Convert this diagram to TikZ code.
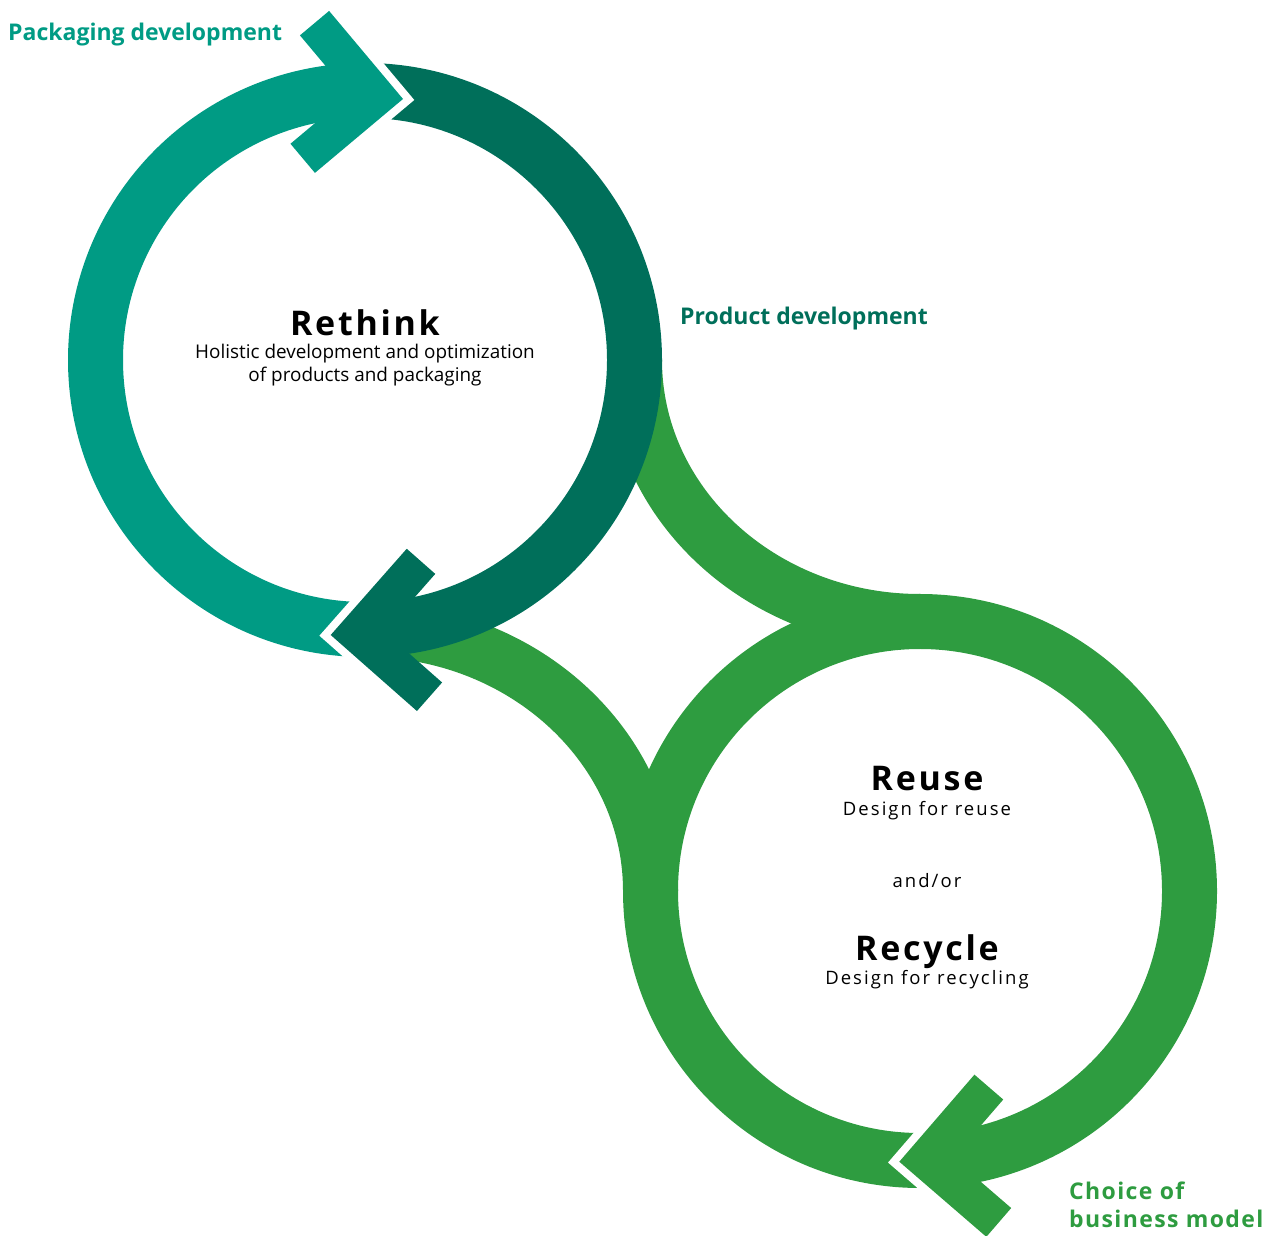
\documentclass[tikz,border=0pt]{standalone}
\usepackage{fontspec}
\setmainfont{Open Sans}
\newfontfamily\spacedfont[LetterSpace=8]{Open Sans}
\newfontfamily\widefont[LetterSpace=11]{Open Sans}
\newfontfamily\bizfont[LetterSpace=6]{Open Sans}
\usepackage{tikz}
\usetikzlibrary{positioning}
\usepackage{xcolor}
\definecolor{packteal}{RGB}{0,155,132}
\definecolor{proddark}{RGB}{0,111,90}
\definecolor{bizgreen}{RGB}{46,156,64}

% arrow head: tip, direction, colour
\newcommand{\chevronhead}[3]{%
  \begin{scope}[shift={#1}, rotate=#2]
    \draw[white, line width=16, line join=miter] (-81.3,81.3) -- (0,0) -- (-81.3,-81.3);
    \fill[#3] (0,0) -- (-81.3,81.3) -- (-108.2,54.4) -- (-53.8,0)
      -- (-108.2,-54.4) -- (-81.3,-81.3) -- cycle;
  \end{scope}}

\tikzset{
  ring/.style={line width=55},
  label/.style={font=\bfseries\fontsize{23}{28}\selectfont, inner sep=0},
  title/.style={font=\spacedfont\bfseries\fontsize{34}{38}\selectfont, inner sep=0},
  sub/.style={font=\fontsize{18.9}{23}\selectfont, inner sep=0, align=center},
  design/.style={font=\widefont\fontsize{18.5}{23}\selectfont, inner sep=0, anchor=base}
}

\begin{document}
\begin{tikzpicture}[x=1pt, y=1pt]
  \useasboundingbox (0,0) rectangle (1276,1235);
  \coordinate (top) at (365,875);
  \coordinate (bot) at (920,344);

  % green links between the two loops
  \draw[bizgreen, ring] (634.5,875) arc[start angle=180, end angle=270, x radius=285.5, y radius=261.5];
  \draw[bizgreen, ring] (650.5,344) arc[start angle=0, end angle=90, x radius=285.5, y radius=261.5];
  \draw[bizgreen, ring] (bot) circle (269.5);

  % upper loop
  \draw[packteal, ring] (top) ++(271:269.5) arc[start angle=271, end angle=90, radius=269.5];
  \draw[proddark, ring] (top) ++(90:269.5) arc[start angle=90, end angle=-89, radius=269.5];

  % heads
  \chevronhead{(403,1136)}{-5}{packteal}
  \chevronhead{(330.7,600)}{183.6}{proddark}
  \chevronhead{(899.3,73.3)}{184.2}{bizgreen}

  % labels
  \node[label, packteal, anchor=base west] (pack) at (8,1194) {Packaging development};
  \node[label, proddark, anchor=base west] (prod) at (680,910) {Product development};
  \node[label, bizgreen, font=\bizfont\bfseries\fontsize{23}{28}\selectfont,
    align=left, anchor=north west] (biz) at (1069,53) {Choice of\\business model};

  \node[title, anchor=base] (rethink) at (365,899) {Rethink};
  \node[sub, anchor=north] (rethinktxt) at (365,891) {Holistic development and optimization\\of products and packaging};

  \node[title, anchor=base] (reuse) at (927,445) {Reuse};
  \node[design] (reusetxt) at (927,420) {Design for reuse};
  \node[design] (andor) at (927,348) {and/or};
  \node[title, anchor=base] (recycle) at (927,275) {Recycle};
  \node[design] (recycletxt) at (927,251) {Design for recycling};
\end{tikzpicture}
\end{document}
